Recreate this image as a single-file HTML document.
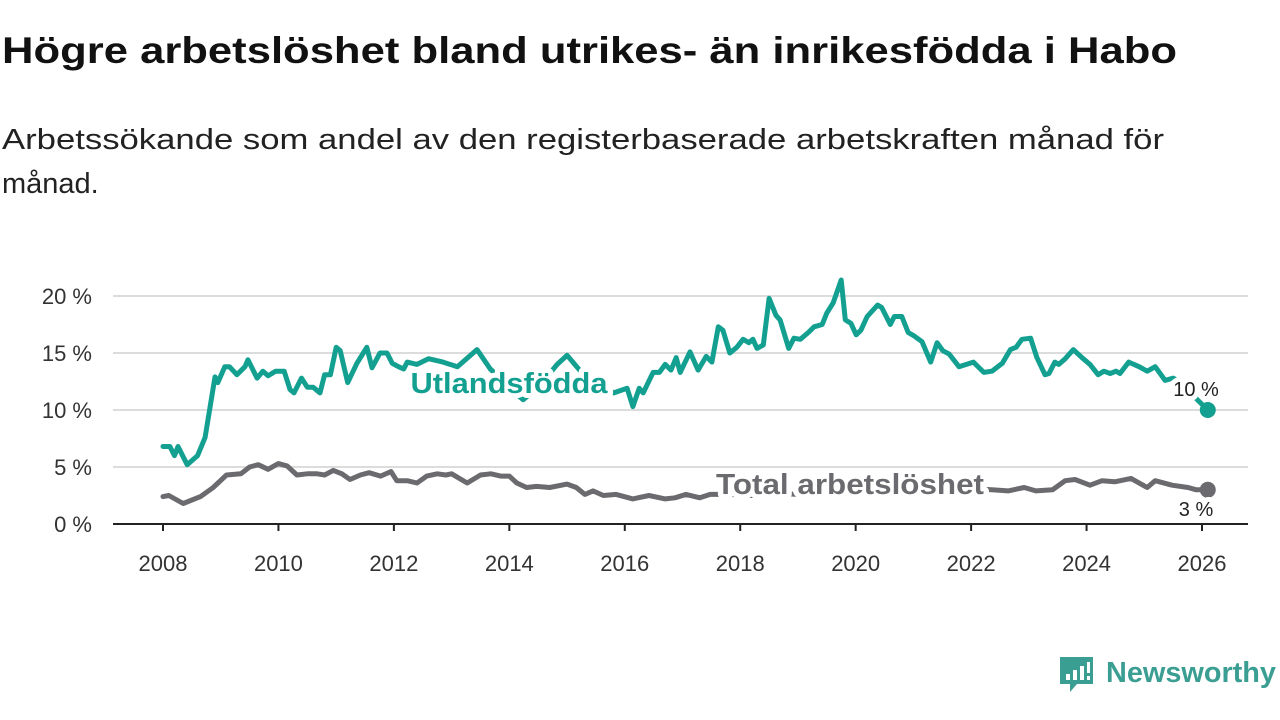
<!DOCTYPE html>
<html><head><meta charset="utf-8">
<style>
html,body{margin:0;padding:0;background:#fff;width:1280px;height:720px;overflow:hidden}
svg{display:block;font-family:"Liberation Sans","DejaVu Sans",sans-serif}
</style></head>
<body>
<svg id="chart" width="1280" height="720" viewBox="0 0 1280 720" xmlns="http://www.w3.org/2000/svg">
<text x="2" y="63" font-size="37" font-weight="bold" fill="#111" textLength="1175" lengthAdjust="spacingAndGlyphs">Högre arbetslöshet bland utrikes- än inrikesfödda i Habo</text>
<text x="2" y="149" font-size="29" fill="#222" textLength="1162" lengthAdjust="spacingAndGlyphs">Arbetssökande som andel av den registerbaserade arbetskraften månad för</text>
<text x="2" y="193" font-size="29" fill="#222">månad.</text>
<g id="grid"></g>
<g id="axes"></g>
<g id="series"></g>
<g id="labels"></g>
<g>
<path d="M1060 657 H1093 V684 H1077 L1070 692 L1070 684 H1060 Z" fill="#3a9e92"/>
<rect x="1066" y="674" width="4" height="6" fill="#fff"/>
<rect x="1073" y="670" width="4" height="10" fill="#fff"/>
<rect x="1080" y="666" width="4" height="14" fill="#fff"/>
<rect x="1087" y="662" width="3" height="11" fill="#fff"/>
<rect x="1087" y="676" width="3" height="4" fill="#fff"/>
<text x="1106" y="682" font-size="29" fill="#3a9e92" font-weight="bold" textLength="170" lengthAdjust="spacingAndGlyphs">Newsworthy</text>
</g>
</svg>
<script>
const yTicks = [0, 5, 10, 15, 20];
const yTickLabels = ["0 %", "5 %", "10 %", "15 %", "20 %"];
const xTicks = [2008, 2010, 2012, 2014, 2016, 2018, 2020, 2022, 2024, 2026];
const foreignDates = [2008.0,2008.12,2008.2,2008.26,2008.42,2008.6,2008.73,2008.9,2008.95,2009.07,2009.15,2009.28,2009.42,2009.47,2009.63,2009.73,2009.82,2009.95,2010.1,2010.2,2010.27,2010.4,2010.5,2010.6,2010.72,2010.8,2010.9,2011.0,2011.07,2011.2,2011.36,2011.53,2011.62,2011.76,2011.88,2011.97,2012.08,2012.17,2012.23,2012.4,2012.6,2012.85,2013.1,2013.44,2013.67,2013.9,2014.1,2014.24,2014.5,2014.83,2015.0,2015.3,2015.6,2015.81,2016.04,2016.14,2016.25,2016.32,2016.49,2016.6,2016.7,2016.8,2016.89,2016.96,2017.13,2017.27,2017.41,2017.51,2017.62,2017.7,2017.82,2017.94,2018.05,2018.15,2018.22,2018.29,2018.4,2018.5,2018.62,2018.69,2018.84,2018.93,2019.04,2019.18,2019.28,2019.42,2019.5,2019.61,2019.75,2019.82,2019.92,2020.01,2020.09,2020.2,2020.38,2020.45,2020.6,2020.67,2020.8,2020.91,2021.01,2021.15,2021.3,2021.41,2021.51,2021.62,2021.79,2022.04,2022.22,2022.36,2022.54,2022.68,2022.78,2022.88,2023.03,2023.14,2023.28,2023.35,2023.45,2023.52,2023.63,2023.77,2023.92,2024.06,2024.2,2024.3,2024.41,2024.51,2024.58,2024.73,2024.91,2025.05,2025.19,2025.36,2025.5,2025.65,2025.9,2026.1];
const foreignValues = [6.8,6.8,6.0,6.8,5.2,6.0,7.6,12.9,12.4,13.8,13.8,13.1,13.8,14.4,12.8,13.4,13.0,13.4,13.4,11.8,11.5,12.8,12.0,12.0,11.5,13.1,13.1,15.5,15.2,12.4,14.1,15.5,13.7,15.0,15.0,14.1,13.8,13.6,14.2,14.0,14.5,14.2,13.8,15.3,13.6,12.5,11.5,10.9,12.0,14.0,14.8,13.0,12.2,11.5,11.9,10.3,11.9,11.5,13.3,13.3,14.0,13.5,14.6,13.3,15.1,13.5,14.7,14.2,17.3,17.0,15.0,15.5,16.2,15.9,16.2,15.4,15.7,19.8,18.3,17.9,15.4,16.3,16.2,16.8,17.3,17.5,18.5,19.4,21.4,17.9,17.6,16.6,17.0,18.2,19.2,19.0,17.5,18.2,18.2,16.8,16.5,16.0,14.2,15.9,15.2,14.9,13.8,14.2,13.3,13.4,14.1,15.3,15.5,16.2,16.3,14.6,13.1,13.2,14.2,14.0,14.5,15.3,14.6,14.0,13.1,13.4,13.2,13.4,13.2,14.2,13.8,13.4,13.8,12.6,12.8,12.4,11.0,10.0];
const totalDates = [2008.0,2008.1,2008.35,2008.65,2008.87,2009.1,2009.35,2009.5,2009.65,2009.82,2010.0,2010.15,2010.32,2010.5,2010.67,2010.8,2010.95,2011.1,2011.24,2011.42,2011.57,2011.77,2011.95,2012.05,2012.23,2012.4,2012.57,2012.75,2012.9,2013.0,2013.27,2013.5,2013.68,2013.85,2014.0,2014.13,2014.3,2014.47,2014.7,2015.0,2015.16,2015.31,2015.45,2015.63,2015.85,2016.14,2016.42,2016.7,2016.87,2017.06,2017.3,2017.48,2017.8,2018.2,2018.6,2019.0,2019.5,2020.0,2020.4,2020.8,2021.2,2021.6,2022.0,2022.36,2022.64,2022.92,2023.12,2023.41,2023.63,2023.8,2024.06,2024.27,2024.49,2024.77,2025.05,2025.19,2025.48,2025.76,2025.9,2026.1];
const totalValues = [2.4,2.5,1.8,2.4,3.2,4.3,4.4,5.0,5.2,4.8,5.3,5.1,4.3,4.4,4.4,4.3,4.7,4.4,3.9,4.3,4.5,4.2,4.6,3.8,3.8,3.6,4.2,4.4,4.3,4.4,3.6,4.3,4.4,4.2,4.2,3.6,3.2,3.3,3.2,3.5,3.2,2.6,2.9,2.5,2.6,2.2,2.5,2.2,2.3,2.6,2.3,2.6,2.6,2.5,2.7,2.6,3.2,3.4,3.0,2.8,2.9,3.0,3.1,3.0,2.9,3.2,2.9,3.0,3.8,3.9,3.4,3.8,3.7,4.0,3.2,3.8,3.4,3.2,3.0,3.0];

const NS = "http://www.w3.org/2000/svg";
const X0 = 113, X1 = 1248;
function xScale(yr){ return 163 + (yr - 2008) * (1202 - 163) / 18; }
function yScale(v){ return 524 - v * (524 - 296) / 20; }
function mk(parent, tag, attrs){ const e = document.createElementNS(NS, tag); for (const k in attrs) e.setAttribute(k, attrs[k]); parent.appendChild(e); return e; }

const grid = document.getElementById('grid');
const axes = document.getElementById('axes');
yTicks.forEach((t, i) => {
  if (t > 0) {
    const g = mk(grid, 'line', {x1:X0, x2:X1, y1:yScale(t), y2:yScale(t), stroke:'#dcdcdc', 'stroke-width':2});
    
    
  }
  const lb = mk(axes, 'text', {x:92, y:yScale(t)+8, 'font-size':22, fill:'#333', 'text-anchor':'end'});
  lb.textContent = yTickLabels[i];
  
  
});
const ax = mk(axes, 'line', {x1:X0, x2:X1, y1:524, y2:524, stroke:'#222', 'stroke-width':2});


xTicks.forEach(t => {
  const tk = mk(axes, 'line', {x1:xScale(t), x2:xScale(t), y1:524, y2:531, stroke:'#222', 'stroke-width':2});
  
  
  const lb = mk(axes, 'text', {x:xScale(t), y:571, 'font-size':22, fill:'#333', 'text-anchor':'middle'});
  lb.textContent = String(t);
  
  
});

const series = document.getElementById('series');
function drawLine(dates, vals, color, name){
  const d = dates.map((yr, i) => (i ? 'L' : 'M') + xScale(yr).toFixed(1) + ' ' + yScale(vals[i]).toFixed(1)).join(' ');
  const p = mk(series, 'path', {d:d, fill:'none', stroke:color, 'stroke-width':5, 'stroke-linejoin':'round', 'stroke-linecap':'round'});
  
  
  const n = dates.length - 1;
  const c = mk(series, 'circle', {cx:xScale(dates[n]), cy:yScale(vals[n]), r:8, fill:color});
  
  
}
drawLine(totalDates, totalValues, '#6b6a6e', 'total');
drawLine(foreignDates, foreignValues, '#14a091', 'foreign-born');

const labels = document.getElementById('labels');
function halo(txt, x, y, size, color, weight, anchor, name, len){
  const t = mk(labels, 'text', {x:x, y:y, 'font-size':size, fill:color, 'font-weight':weight, 'text-anchor':anchor, stroke:'#fff', 'stroke-width':10, 'paint-order':'stroke', 'stroke-linejoin':'round'});
  if (len) { t.setAttribute('textLength', len); t.setAttribute('lengthAdjust', 'spacingAndGlyphs'); }
  t.textContent = txt;
  
  
}
halo('Utlandsfödda', 509, 393, 29, '#14a091', 'bold', 'middle', 'foreign-born-label', 197);
halo('Total arbetslöshet', 850, 494, 29, '#6b6a6e', 'bold', 'middle', 'total-label', 268);
halo(foreignValues[foreignValues.length-1] + ' %', 1196, 396, 20, '#222', 'normal', 'middle', 'foreign-born-value-label');
halo(totalValues[totalValues.length-1] + ' %', 1196, 516, 20, '#222', 'normal', 'middle', 'total-value-label');
</script>
</body></html>
